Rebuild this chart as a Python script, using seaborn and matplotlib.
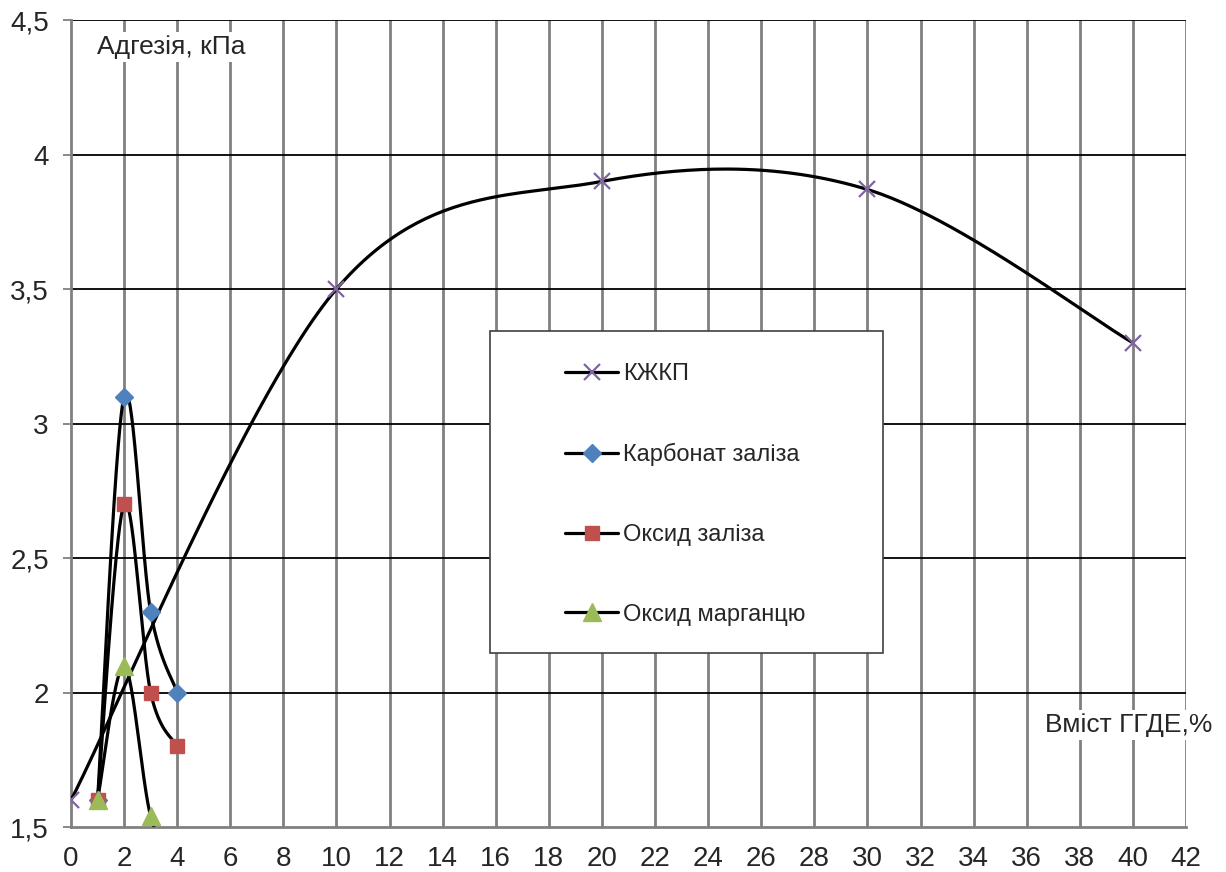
import numpy as np
import pandas as pd
import matplotlib
matplotlib.use("Agg")
import matplotlib.pyplot as plt
from matplotlib.lines import Line2D
from matplotlib.patches import Rectangle
from matplotlib.ticker import FuncFormatter, MultipleLocator
import seaborn as sns

# ---- data ----
kzhkp_x = [0, 10, 20, 30, 40]
kzhkp_y = [1.6, 3.5, 3.9, 3.87, 3.3]
carb_x = [1, 2, 3, 4]
carb_y = [1.6, 3.1, 2.3, 2.0]
oxfe_x = [1, 2, 3, 4]
oxfe_y = [1.6, 2.7, 2.0, 1.8]
oxmn_x = [1, 2, 3, 4]
oxmn_y = [1.6, 2.1, 1.54, 1.35]
labels = ["КЖКП", "Карбонат заліза", "Оксид заліза", "Оксид марганцю"]
x_label = "Вміст ГГДЕ,%"
y_label = "Адгезія, кПа"

series = [
    (kzhkp_x, kzhkp_y, "x", "#8064A2", 11),
    (carb_x, carb_y, "D", "#4F81BD", 9.5),
    (oxfe_x, oxfe_y, "s", "#C0504D", 10.5),
    (oxmn_x, oxmn_y, "^", "#9BBB59", 12.5),
]


def smooth(x, y, n=60):
    P = np.column_stack([x, y]).astype(float)
    out = []
    for i in range(len(P) - 1):
        p0 = P[i - 1] if i > 0 else P[i]
        p1 = P[i]
        p2 = P[i + 1]
        p3 = P[i + 2] if i + 2 < len(P) else P[i + 1]
        c1 = p1 + (p2 - p0) / 6
        c2 = p2 - (p3 - p1) / 6
        t = np.linspace(0, 1, n)[:, None]
        seg = (1 - t) ** 3 * p1 + 3 * (1 - t) ** 2 * t * c1 + 3 * (1 - t) * t ** 2 * c2 + t ** 3 * p2
        out.append(seg if i == 0 else seg[1:])
    s = np.vstack(out)
    return s[:, 0], s[:, 1]


sns.set_style("white")
plt.rcParams["font.family"] = ["Liberation Sans", "DejaVu Sans"]

fig = plt.figure(figsize=(12.26, 8.72), dpi=100)
ax = fig.add_axes([71 / 1226, 1 - 827 / 872, (1186 - 71) / 1226, (827 - 20) / 872])

ax.set_xlim(0, 42)
ax.set_ylim(1.5, 4.5)
ax.xaxis.set_major_locator(MultipleLocator(2))
ax.yaxis.set_major_locator(MultipleLocator(0.5))
fmt = FuncFormatter(lambda v, p: f"{v:g}".replace(".", ","))
ax.xaxis.set_major_formatter(fmt)
ax.yaxis.set_major_formatter(fmt)

# grid
for xv in np.arange(2, 43, 2):
    ax.axvline(xv, color="#808080", lw=2.0, zorder=1)
for yv in np.arange(2.0, 4.51, 0.5):
    ax.axhline(yv, color="black", lw=1.3, zorder=1)

for sp in ["top", "right"]:
    ax.spines[sp].set_visible(False)
ax.spines["left"].set_color("#808080")
ax.spines["left"].set_linewidth(2.0)
ax.spines["bottom"].set_color("#808080")
ax.spines["bottom"].set_linewidth(2.0)

ax.tick_params(axis="y", length=6, width=1.3, color="#808080", pad=10, labelsize=20, left=True)
ax.tick_params(axis="x", length=0, pad=14, labelsize=20, bottom=True)

for (xs, ys, mk, col, ms), lab in zip(series, labels):
    sx, sy = smooth(xs, ys)
    sns.lineplot(x=sx, y=sy, sort=False, estimator=None, color="black", lw=2.3, ax=ax, zorder=3)
    if mk == "x":
        ax.plot(xs, ys, ls="none", marker=mk, color=col, ms=ms, mew=1.6, zorder=4, clip_on=True)
    else:
        ax.plot(xs, ys, ls="none", marker=mk, color=col, ms=ms, mec=col, zorder=4, clip_on=True)

# legend box
ax.add_patch(Rectangle((0.3758, 1 - (653 - 20) / 807), (883 - 490) / 1115, (653 - 331) / 807,
                       transform=ax.transAxes, facecolor="white", edgecolor="#404040", lw=1.2, zorder=5))
handles = []
for (xs, ys, mk, col, ms) in series:
    if mk == "x":
        handles.append(Line2D([], [], color="black", lw=2.3, marker=mk, mfc=col, mec=col, ms=ms, mew=1.6))
    else:
        handles.append(Line2D([], [], color="black", lw=2.3, marker=mk, mfc=col, mec=col, ms=ms))
leg = ax.legend(handles, labels, loc="upper left",
                bbox_to_anchor=((565 - 71) / 1115, 1 - (363 - 20) / 807),
                frameon=False, fontsize=17, handlelength=2.25, handletextpad=0.2,
                labelspacing=2.45, borderpad=0, borderaxespad=0)
leg.set_zorder(6)

ax.text((97 - 71) / 1115, 1 - (47 - 20) / 807, y_label, transform=ax.transAxes,
        fontsize=19, ha="left", va="center", zorder=7,
        bbox=dict(facecolor="white", edgecolor="none", pad=2))
ax.text((1045 - 71) / 1115, 1 - (725 - 20) / 807, x_label, transform=ax.transAxes,
        fontsize=19, ha="left", va="center", zorder=7, clip_on=False,
        bbox=dict(facecolor="white", edgecolor="none", pad=2))

fig.savefig("out.png", dpi=100)
